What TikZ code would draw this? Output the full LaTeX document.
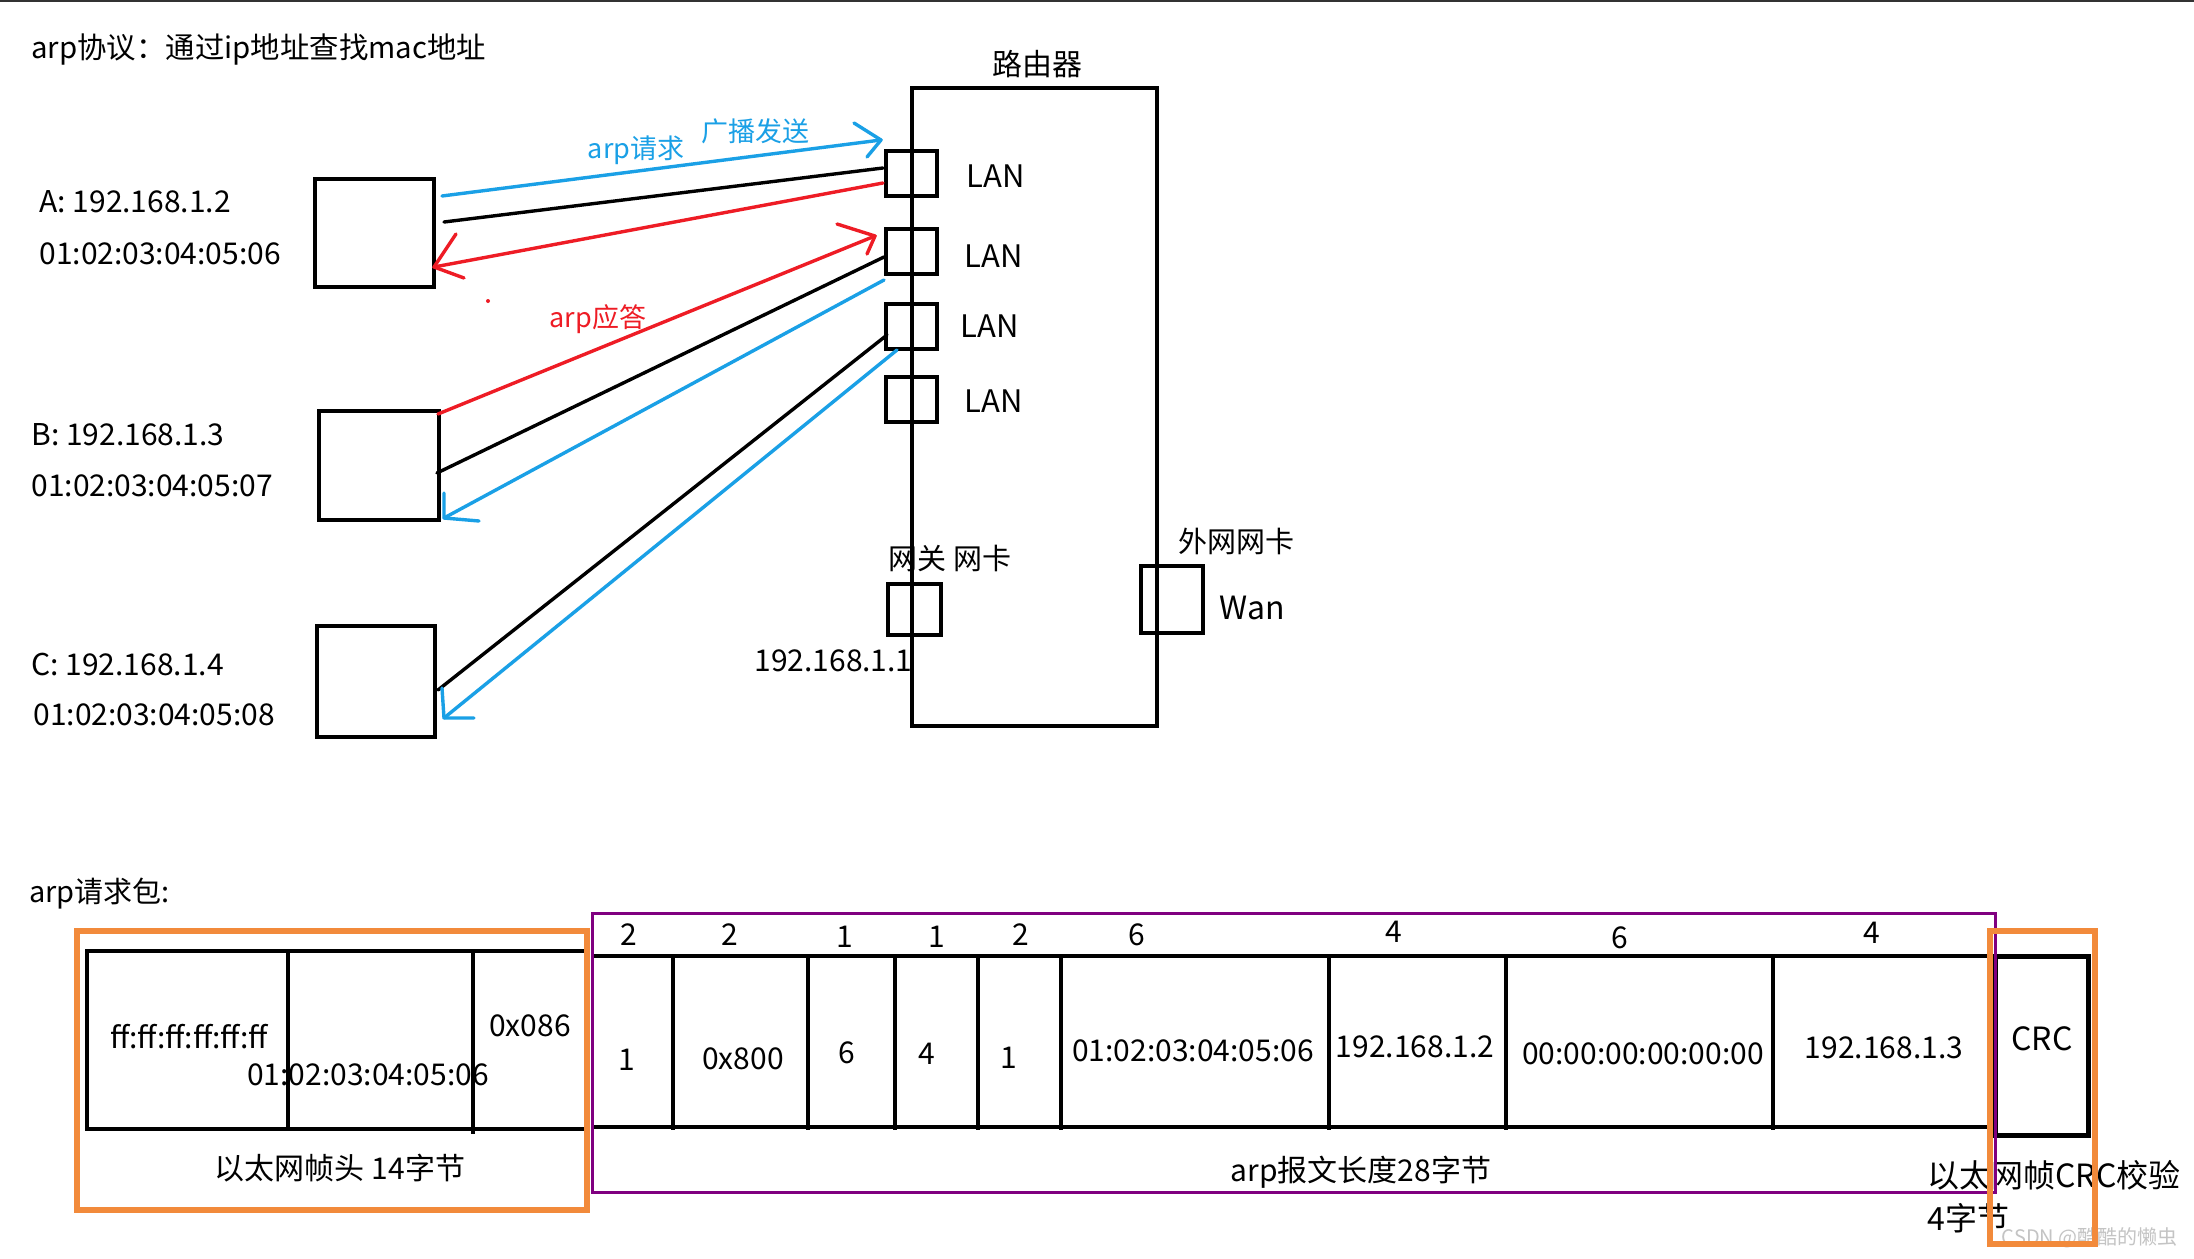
\documentclass[tikz,border=0pt]{standalone}
\usepackage{fontspec}
\setmainfont{Noto Sans CJK SC}
\newcommand\myfs[1]{\fontsize{#1}{#1}\selectfont}
\definecolor{lblue}{HTML}{1AA0E6}
\definecolor{lred}{HTML}{EE1C25}
\definecolor{orng}{HTML}{F28A3B}
\definecolor{purp}{HTML}{800080}
\definecolor{wmark}{HTML}{C4C4C4}
\begin{document}
\begin{tikzpicture}[x=0.5pt,y=-0.5pt,
  lbl/.style={inner sep=0pt, font=\myfs{15pt}},
  hostbox/.style={draw, line width=2pt, inner sep=0pt},
  portbox/.style={draw, line width=1.75pt, inner sep=0pt, minimum width=25.5pt, minimum height=22.5pt},
  con/.style={line width=1.7pt, line cap=round, line join=round},
  tline/.style={line width=2pt},
  hd/.style={inner sep=0pt, font=\myfs{15pt}},
  cell/.style={inner sep=0pt, font=\myfs{15pt}},
  frame/.style={draw, line width=3pt}
]
\useasboundingbox (0,0) rectangle (2194,1258);
\fill[white] (0,0) rectangle (2194,1258);
\draw[line width=1.4pt, black!80] (0,1) -- (2194,1);

% ---------- title ----------
\node[lbl, anchor=west, font=\myfs{14.7pt}] (title) at (31,50) {arp协议：通过ip地址查找mac地址};

% ---------- router ----------
\node[draw, line width=1.75pt, minimum width=122.5pt, minimum height=319pt, inner sep=0pt] (router) at (1034.5,407) {};
\node[lbl, font=\myfs{15pt}] (rtitle) at (1037,64) {路由器};
\node[portbox] (p1) at (911.5,173.5) {};
\node[portbox] (p2) at (911.5,251.5) {};
\node[portbox] (p3) at (911.5,326.5) {};
\node[portbox] (p4) at (911.5,399.5) {};
\node[lbl, anchor=west, font=\myfs{15.5pt}] (l1) at (966,176) {LAN};
\node[lbl, anchor=west, font=\myfs{15.5pt}] (l2) at (964,256) {LAN};
\node[lbl, anchor=west, font=\myfs{15.5pt}] (l3) at (960,326) {LAN};
\node[lbl, anchor=west, font=\myfs{15.5pt}] (l4) at (964,401) {LAN};
\node[portbox, minimum width=26.5pt, minimum height=25.5pt] (gw) at (914.5,609.5) {};
\node[lbl, font=\myfs{14.5pt}] (gwl) at (950,558) {网关 网卡};
\node[lbl, anchor=west] (gwip) at (754,661) {192.168.1.1};
\node[portbox, minimum width=31pt, minimum height=33.5pt] (wan) at (1172,599.5) {};
\node[lbl, font=\myfs{14.5pt}] (wanl) at (1236,541) {外网网卡};
\node[lbl, font=\myfs{16pt}] (wanw) at (1252,608) {Wan};

% ---------- hosts ----------
\node[hostbox, minimum width=59.5pt, minimum height=54pt] (A) at (374.5,233) {};
\node[hostbox, minimum width=60pt, minimum height=54.5pt] (B) at (379,465.5) {};
\node[hostbox, minimum width=59pt, minimum height=55.5pt] (C) at (376,681.5) {};
\node[lbl, anchor=west] (aip) at (39,202) {A: 192.168.1.2};
\node[lbl, anchor=west] (amac) at (39,254) {01:02:03:04:05:06};
\node[lbl, anchor=west] (bip) at (31,435) {B: 192.168.1.3};
\node[lbl, anchor=west] (bmac) at (31,486) {01:02:03:04:05:07};
\node[lbl, anchor=west] (cip) at (31,664) {C: 192.168.1.4};
\node[lbl, anchor=west] (cmac) at (33,715) {01:02:03:04:05:08};

% ---------- connectors ----------
\coordinate (aq1) at (442,196);  \coordinate (aq2) at (881,140);
\coordinate (ak1) at (444,222);  \coordinate (ak2) at (883,168);
\coordinate (ar1) at (883,183);  \coordinate (ar2) at (434,267);
\coordinate (br1) at (438,414);  \coordinate (br2) at (875,236);
\coordinate (bk1) at (437,473);  \coordinate (bk2) at (884,257);
\coordinate (bq1) at (884,280);  \coordinate (bq2) at (444,518);
\coordinate (ck1) at (887,335);  \coordinate (ck2) at (438,690);
\coordinate (cq1) at (897,350);  \coordinate (cq2) at (444,718);

\draw[con, lblue] (aq1) -- (aq2);
\draw[con, lblue] (aq2) ++(-27,-17) -- (aq2) -- ++(-14,17);
\draw[con, black] (ak1) -- (ak2);
\draw[con, lred] (ar1) -- (ar2);
\draw[con, lred] (ar2) ++(22,-33) -- (ar2) -- ++(30,11);
\draw[con, lred] (br1) -- (br2);
\draw[con, lred] (br2) ++(-38,-12) -- (br2) -- ++(-8,18);
\draw[con, black] (bk1) -- (bk2);
\draw[con, lblue] (bq1) -- (bq2);
\draw[con, lblue] (bq2) ++(0,-25) -- (bq2) -- ++(35,3);
\draw[con, black] (ck1) -- (ck2);
\draw[con, lblue] (cq1) -- (cq2);
\draw[con, lblue] (cq2) ++(-2,-30) -- (cq2) -- ++(30,0);
\fill[lred] (488,301) circle (2);

\node[lbl, font=\myfs{13.5pt}, text=lblue] (tq) at (636,150) {arp请求};
\node[lbl, font=\myfs{13.5pt}, text=lblue] (tb) at (755,131) {广播发送};
\node[lbl, font=\myfs{13.5pt}, text=lred] (tr) at (598,319) {arp应答};

% ---------- packet ----------
\node[lbl, anchor=west, font=\myfs{14.5pt}] (pkt) at (29,894) {arp请求包:};

% ethernet header
\draw[tline] (590,951) -- (87,951) -- (87,1129) -- (590,1129);
\draw[tline] (288,951) -- (288,1129);
\draw[tline] (473,951) -- (473,1134);
\node[cell] (e1) at (189,1037) {ff:ff:ff:ff:ff:ff};
\node[cell] (e2) at (368,1075) {01:02:03:04:05:06};
\node[cell] (e3) at (530,1026) {0x086};
\node[cell] (e4) at (340,1168) {以太网帧头 14字节};

% arp table
\draw[tline] (592,956) -- (1995,956);
\draw[tline] (592,1127) -- (1995,1127);
\foreach \xx in {673,808,895,978,1061,1329,1506,1773}
  \draw[tline] (\xx,956) -- (\xx,1130);
\node[hd] (h1) at (629,935) {2};
\node[hd] (h2) at (730,935) {2};
\node[hd] (h3) at (845,937) {1};
\node[hd] (h4) at (937,937) {1};
\node[hd] (h5) at (1021,935) {2};
\node[hd] (h6) at (1137,935) {6};
\node[hd] (h7) at (1394,932) {4};
\node[hd] (h8) at (1620,938) {6};
\node[hd] (h9) at (1872,933) {4};
\node[cell] (v1) at (627,1060) {1};
\node[cell] (v2) at (743,1059) {0x800};
\node[cell] (v3) at (847,1053) {6};
\node[cell] (v4) at (927,1054) {4};
\node[cell] (v5) at (1009,1058) {1};
\node[cell] (v6) at (1193,1051) {01:02:03:04:05:06};
\node[cell] (v7) at (1415,1047) {192.168.1.2};
\node[cell] (v8) at (1643,1054) {00:00:00:00:00:00};
\node[cell] (v9) at (1884,1048) {192.168.1.3};
\node[cell] (arpl) at (1361,1172) {arp报文长度28字节};

% CRC
\node[draw, line width=2.5pt, minimum width=46.5pt, minimum height=89.5pt, inner sep=0pt] (crc) at (2041.5,1045.5) {};
\node[cell, font=\myfs{16pt}] (crct) at (2042,1039) {CRC};
\node[lbl, anchor=west, font=\myfs{16pt}] (crcl1) at (1927,1175) {以太网帧CRC校验};
\node[lbl, anchor=west, font=\myfs{16pt}] (crcl2) at (1927,1218) {4字节};
\node[lbl, anchor=east, font=\myfs{10pt}, text=wmark] (wm) at (2178,1238) {CSDN @酷酷的懒虫};

% frames
\draw[purp, line width=1.5pt] (592,913) rectangle (1995,1192);
\draw[orng, line width=3pt] (77,931) rectangle (587,1210);
\draw[orng, line width=3pt] (1990,931) rectangle (2095,1244);
\end{tikzpicture}
\end{document}
